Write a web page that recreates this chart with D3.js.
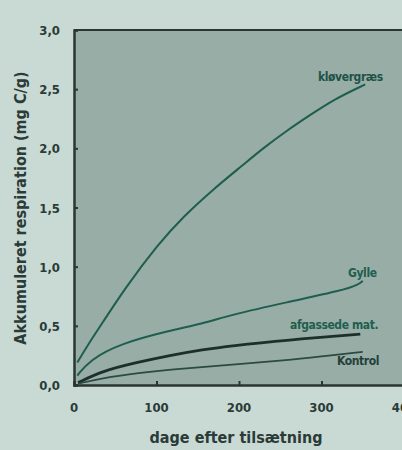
<!DOCTYPE html>
<html>
<head>
<meta charset="utf-8">
<script src="https://d3js.org/d3.v7.min.js"></script>
<style>
html, body { margin: 0; padding: 0; background: #c9d9d3; }
svg { display: block; }
</style>
</head>
<body>
<script>
// data (days, mg C/g)
var kloverDays = [4, 16, 34, 62, 102, 132, 168, 205, 229, 258, 286, 314, 353];
var kloverVals = [0.19, 0.33, 0.52, 0.82, 1.19, 1.42, 1.65, 1.86, 2.00, 2.15, 2.28, 2.41, 2.54];
var gylleDays = [4, 19, 56, 116, 157, 189, 258, 326, 345, 350];
var gylleVals = [0.08, 0.21, 0.35, 0.46, 0.52, 0.59, 0.70, 0.80, 0.85, 0.88];
var afgasDays = [5, 35, 76, 116, 157, 189, 258, 347];
var afgasVals = [0.02, 0.12, 0.19, 0.25, 0.30, 0.33, 0.38, 0.43];
var kontrolDays = [5, 35, 76, 116, 189, 258, 298, 350];
var kontrolVals = [0.01, 0.06, 0.10, 0.13, 0.17, 0.21, 0.24, 0.28];
var xTicks = [0, 100, 200, 300, 400];
var yTicks = [0, 0.5, 1, 1.5, 2, 2.5, 3];
var labels = ['kløvergræs', 'Gylle', 'afgassede mat.', 'Kontrol'];

var W = 402, H = 450;
var svg = d3.select('body').append('svg')
    .attr('width', W)
    .attr('height', H);

var x = d3.scaleLinear().domain([0, 400]).range([74, 404]);
var y = d3.scaleLinear().domain([0, 3]).range([385, 30]);
var font = '"Liberation Sans Narrow", "DejaVu Sans Condensed", Arial, sans-serif';

svg.append('rect')
    .attr('width', W).attr('height', H)
    .attr('fill', '#c9d9d3');

// plot area
svg.append('rect')
    .attr('x', x(0)).attr('y', y(3))
    .attr('width', x(400) - x(0)).attr('height', y(0) - y(3))
    .attr('fill', '#97ada6');

svg.append('line')
    .attr('x1', x(0)).attr('x2', x(400))
    .attr('y1', y(3)).attr('y2', y(3))
    .attr('stroke', '#2b3634').attr('stroke-width', 2);

var yAxis = svg.append('g')
    .attr('transform', 'translate(' + x(0) + ',0)')
    .call(d3.axisRight(y).tickValues(yTicks).tickSize(4).tickFormat(''));
var xAxis = svg.append('g')
    .attr('transform', 'translate(0,' + y(0) + ')')
    .call(d3.axisTop(x).tickValues(xTicks).tickSize(4).tickFormat(''));
[yAxis, xAxis].forEach(function(a) {
    a.select('.domain').attr('stroke', '#2b3634').attr('stroke-width', 2.5);
    a.selectAll('.tick line').attr('stroke', '#2b3634').attr('stroke-width', 2);
});

svg.selectAll('text.ytick')
    .data(yTicks)
    .enter().append('text')
    .attr('class', 'ytick')
    .attr('x', 60)
    .attr('y', function(d) { return y(d) + 5; })
    .attr('text-anchor', 'end')
    .attr('font-family', font).attr('font-weight', 'bold').attr('font-size', 13)
    .attr('fill', '#2a3b38')
    .text(function(d) { return d3.format('.1f')(d).replace('.', ','); });

svg.selectAll('text.xtick')
    .data(xTicks)
    .enter().append('text')
    .attr('class', 'xtick')
    .attr('x', function(d) { return x(d); })
    .attr('y', 412)
    .attr('text-anchor', 'middle')
    .attr('font-family', font).attr('font-weight', 'bold').attr('font-size', 13)
    .attr('fill', '#2a3b38')
    .text(function(d) { return d; });

svg.append('text')
    .attr('x', 236).attr('y', 443)
    .attr('text-anchor', 'middle')
    .attr('font-family', font).attr('font-weight', 'bold').attr('font-size', 16)
    .attr('fill', '#2a3b38')
    .text('dage efter tilsætning');

svg.append('text')
    .attr('transform', 'translate(26,208) rotate(-90)')
    .attr('text-anchor', 'middle')
    .attr('font-family', font).attr('font-weight', 'bold').attr('font-size', 16)
    .attr('fill', '#2a3b38')
    .text('Akkumuleret respiration (mg C/g)');

function series(days, vals) {
    return days.map(function(d, i) { return [d, vals[i]]; });
}
var line = d3.line()
    .x(function(d) { return x(d[0]); })
    .y(function(d) { return y(d[1]); })
    .curve(d3.curveBasis);

var lines = [
    {data: series(kloverDays, kloverVals), color: '#1f5e4f', w: 2},
    {data: series(gylleDays, gylleVals), color: '#1f5e4f', w: 2},
    {data: series(afgasDays, afgasVals), color: '#1e2f2b', w: 2.8},
    {data: series(kontrolDays, kontrolVals), color: '#2b4a43', w: 1.6}
];
svg.selectAll('path.series')
    .data(lines)
    .enter().append('path')
    .attr('class', 'series')
    .attr('d', function(d) { return line(d.data); })
    .attr('fill', 'none')
    .attr('stroke', function(d) { return d.color; })
    .attr('stroke-width', function(d) { return d.w; });

var labelPos = [
    {x: 318, y: 81, color: '#1f5246'},
    {x: 348, y: 277, color: '#1f5e4f'},
    {x: 290, y: 329, color: '#1f5e4f'},
    {x: 337, y: 365, color: '#24403a'}
];
svg.selectAll('text.lab')
    .data(labels)
    .enter().append('text')
    .attr('class', 'lab')
    .attr('x', function(d, i) { return labelPos[i].x; })
    .attr('y', function(d, i) { return labelPos[i].y; })
    .attr('font-family', font).attr('font-weight', 'bold').attr('font-size', 12)
    .attr('letter-spacing', -0.4)
    .attr('fill', function(d, i) { return labelPos[i].color; })
    .text(function(d) { return d; });
</script>
</body>
</html>
